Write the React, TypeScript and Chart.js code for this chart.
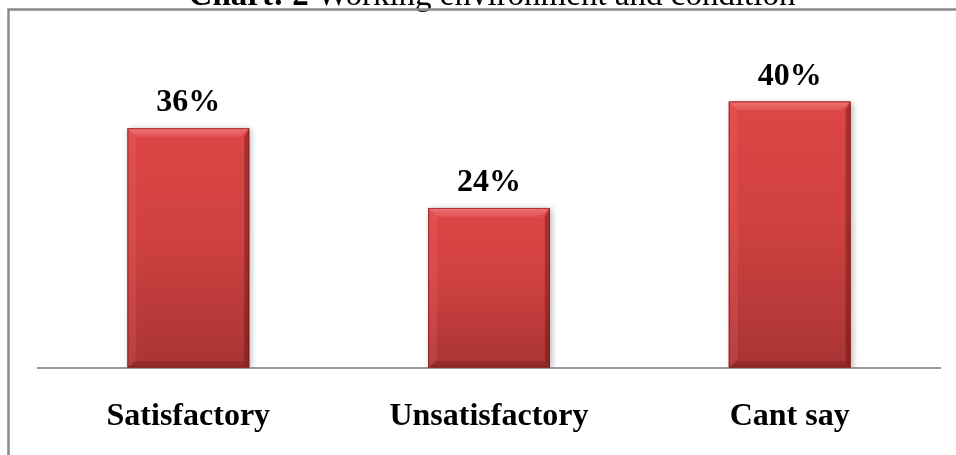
import React, { useEffect, useRef } from "react";
import { Chart, registerables } from "chart.js";

Chart.register(...registerables);

const categories = ["Satisfactory", "Unsatisfactory", "Cant say"];
const values = [36, 24, 40];
const valueLabels = ["36%", "24%", "40%"];
const titleBold = "Chart: 2 ";
const titleRest = "Working environment and condition";

const FONT = "'Liberation Serif', 'Times New Roman', serif";

const decorPlugin = {
  id: "decor",
  beforeDraw(chart: any) {
    const ctx = chart.ctx;
    ctx.save();
    ctx.fillStyle = "#ffffff";
    ctx.fillRect(0, 0, chart.width, chart.height);
    // title (cut off at top)
    ctx.fillStyle = "#000";
    ctx.textBaseline = "alphabetic";
    ctx.font = `bold 33px ${FONT}`;
    const w1 = ctx.measureText(titleBold).width;
    ctx.font = `33px ${FONT}`;
    const w2 = ctx.measureText(titleRest).width;
    const cx = 492;
    const x0 = cx - (w1 + w2) / 2;
    ctx.font = `bold 33px ${FONT}`;
    ctx.textAlign = "left";
    ctx.fillText(titleBold, x0, 5);
    ctx.font = `33px ${FONT}`;
    ctx.fillText(titleRest, x0 + w1, 5);
    // frame
    ctx.strokeStyle = "#8a8a8a";
    ctx.lineWidth = 2.5;
    ctx.strokeRect(8.5, 9.5, 1000, 1000);
    ctx.restore();
  },
  beforeDatasetsDraw(chart: any) {
    const ctx = chart.ctx;
    ctx.save();
    ctx.shadowColor = "rgba(0,0,0,0.28)";
    ctx.shadowBlur = 6;
    ctx.shadowOffsetX = 2;
    ctx.shadowOffsetY = 1;
  },
  afterDatasetsDraw(chart: any) {
    const ctx = chart.ctx;
    ctx.restore();
    const meta = chart.getDatasetMeta(0);
    ctx.save();
    meta.data.forEach((bar: any, i: number) => {
      const { x, y, base, width } = bar.getProps(["x", "y", "base", "width"], true);
      const l = x - width / 2;
      const r = x + width / 2;
      const t = y;
      const b = base;
      const bv = 9;
      const g = ctx.createLinearGradient(0, t, 0, b);
      g.addColorStop(0, "#dc4646");
      g.addColorStop(0.45, "#d04141");
      g.addColorStop(1, "#a93434");
      ctx.fillStyle = g;
      ctx.fillRect(l, t, width, b - t);
      const gt = ctx.createLinearGradient(0, t, 0, t + bv);
      gt.addColorStop(0, "#f27272");
      gt.addColorStop(1, "#e05252");
      ctx.fillStyle = gt;
      ctx.beginPath();
      ctx.moveTo(l, t);
      ctx.lineTo(r, t);
      ctx.lineTo(r - bv, t + bv);
      ctx.lineTo(l + bv, t + bv);
      ctx.closePath();
      ctx.fill();
      ctx.fillStyle = "rgba(255,120,120,0.18)";
      ctx.beginPath();
      ctx.moveTo(l, t);
      ctx.lineTo(l + bv, t + bv);
      ctx.lineTo(l + bv, b - bv);
      ctx.lineTo(l, b);
      ctx.closePath();
      ctx.fill();
      ctx.fillStyle = "rgba(80,10,10,0.35)";
      ctx.beginPath();
      ctx.moveTo(r, t);
      ctx.lineTo(r - 5, t + bv);
      ctx.lineTo(r - 5, b - 5);
      ctx.lineTo(r, b);
      ctx.closePath();
      ctx.fill();
      ctx.fillStyle = "rgba(80,10,10,0.25)";
      ctx.beginPath();
      ctx.moveTo(l, b);
      ctx.lineTo(l + bv, b - 6);
      ctx.lineTo(r - 5, b - 6);
      ctx.lineTo(r, b);
      ctx.closePath();
      ctx.fill();
      ctx.strokeStyle = "rgba(110,20,20,0.6)";
      ctx.lineWidth = 1;
      ctx.strokeRect(l + 0.5, t + 0.5, width - 1, b - t - 1);
      ctx.fillStyle = "#000";
      ctx.font = `bold 32px ${FONT}`;
      ctx.textAlign = "center";
      ctx.textBaseline = "alphabetic";
      ctx.fillText(valueLabels[i], x, t - 17);
    });
    ctx.restore();
  },
};

export default function App() {
  const ref = useRef<HTMLCanvasElement>(null);
  useEffect(() => {
    const chart = new Chart(ref.current!, {
      type: "bar",
      data: {
        labels: categories,
        datasets: [
          {
            data: values,
            backgroundColor: "#d04141",
            borderWidth: 0,
            categoryPercentage: 1,
            barPercentage: 0.405,
          },
        ],
      },
      options: {
        animation: false,
        responsive: false,
        layout: { padding: { left: 38, right: 16, top: 35, bottom: 14 } },
        plugins: { legend: { display: false }, tooltip: { enabled: false }, title: { display: false } },
        scales: {
          y: { display: false, min: 0, max: 50 },
          x: {
            grid: { display: false, drawTicks: false },
            border: { display: true, color: "#999999", width: 2 },
            ticks: {
              color: "#000",
              font: { family: FONT, size: 32, weight: "bold" },
              padding: 30,
              maxRotation: 0,
            },
          },
        },
      },
      plugins: [decorPlugin],
    });
    return () => chart.destroy();
  }, []);
  return (
    <div style={{ position: "fixed", left: 0, top: 0, width: 956, height: 480, background: "#fff" }}>
      <canvas ref={ref} width={956} height={480} style={{ width: 956, height: 480, display: "block" }} />
    </div>
  );
}
